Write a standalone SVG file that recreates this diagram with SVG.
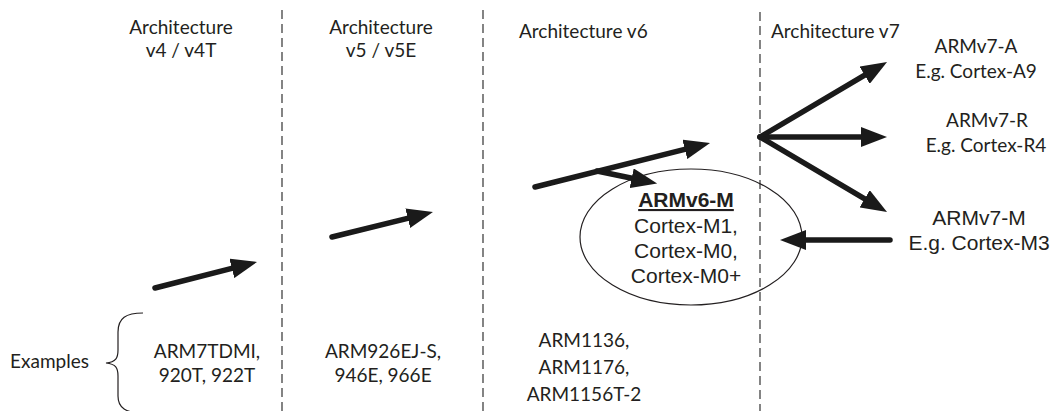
<svg xmlns="http://www.w3.org/2000/svg" width="1054" height="411" viewBox="0 0 1054 411">
<style>
.cal{font-family:Lato,"Open Sans","DejaVu Sans",sans-serif;font-size:19px;fill:#231f20}
.ari{font-family:"Liberation Sans",Arial,sans-serif;font-size:21px;fill:#231f20}
.b{font-weight:bold}
.mid{text-anchor:middle}
.sep{stroke:#333;stroke-width:1.2;stroke-dasharray:9 5;fill:none}
.arr{stroke:#1a1a1a;stroke-width:5.5;stroke-linecap:round;fill:none;marker-end:url(#head)}
</style>
<defs>
<marker id="head" markerUnits="userSpaceOnUse" viewBox="0 0 26 20" refX="4" refY="10" markerWidth="26" markerHeight="20" orient="auto">
<path d="M0,0 L26,10 L0,20 z" fill="#1a1a1a"/>
</marker>
</defs>
<rect width="1054" height="411" fill="#fff"/>
<g id="separators">
<line class="sep" x1="282" y1="10" x2="282" y2="411"/>
<line class="sep" x1="483" y1="10" x2="483" y2="411"/>
<line class="sep" x1="760" y1="12" x2="760" y2="411"/>
</g>
<g id="col-v4">
<text class="cal mid" x="181" y="34">Architecture</text>
<text class="cal mid" x="181" y="57">v4 / v4T</text>
<text class="cal mid" x="207" y="358">ARM7TDMI,</text>
<text class="cal mid" x="207" y="382">920T, 922T</text>
</g>
<g id="col-v5">
<text class="cal mid" x="381" y="34">Architecture</text>
<text class="cal mid" x="381" y="57">v5 / v5E</text>
<text class="cal mid" x="383" y="358">ARM926EJ-S,</text>
<text class="cal mid" x="383" y="382">946E, 966E</text>
</g>
<g id="col-v6">
<text class="cal" x="519" y="38">Architecture v6</text>
<text class="cal mid" x="584" y="347">ARM1136,</text>
<text class="cal mid" x="584" y="374">ARM1176,</text>
<text class="cal mid" x="584" y="401">ARM1156T-2</text>
</g>
<g id="col-v7">
<text class="cal" x="771" y="38">Architecture v7</text>
</g>
<g id="examples">
<text class="cal" x="10" y="368">Examples</text>
<path d="M143,313 C126,313 118,318 118,332 L118,350 C118,358 116,362 106,363 C116,364 118,368 118,376 L118,396 C118,408 126,413 143,413" fill="none" stroke="#231f20" stroke-width="1.2"/>
</g>
<g id="armv6m">
<ellipse cx="691" cy="237" rx="111" ry="68" fill="none" stroke="#231f20" stroke-width="1.2"/>
<text class="ari b mid" x="686" y="207" font-size="20" text-decoration="underline">ARMv6-M</text>
<text class="ari mid" x="686" y="233">Cortex-M1,</text>
<text class="ari mid" x="686" y="258">Cortex-M0,</text>
<text class="ari mid" x="686" y="283">Cortex-M0+</text>
</g>
<g id="armv7a">
<text class="cal mid" x="976" y="53">ARMv7-A</text>
<text class="cal mid" x="976" y="78">E.g. Cortex-A9</text>
</g>
<g id="armv7r">
<text class="cal mid" x="987" y="127">ARMv7-R</text>
<text class="cal mid" x="986" y="152">E.g. Cortex-R4</text>
</g>
<g id="armv7m">
<text class="ari mid" x="979" y="225">ARMv7-M</text>
<text class="ari mid" x="979" y="250">E.g. Cortex-M3</text>
</g>
<g id="connectors">
<line class="arr" x1="155" y1="288" x2="235.7" y2="267.4"/>
<line class="arr" x1="332" y1="237" x2="411.6" y2="217.3"/>
<line class="arr" x1="535" y1="187" x2="688.7" y2="148.4"/>
<line class="arr" x1="597" y1="171" x2="635.6" y2="179"/>
<line class="arr" x1="760" y1="137" x2="868.1" y2="73.2"/>
<line class="arr" x1="760" y1="137" x2="865" y2="137"/>
<line class="arr" x1="760" y1="137" x2="868.1" y2="200.8"/>
<line class="arr" x1="890" y1="240" x2="802" y2="240"/>
</g>
</svg>
